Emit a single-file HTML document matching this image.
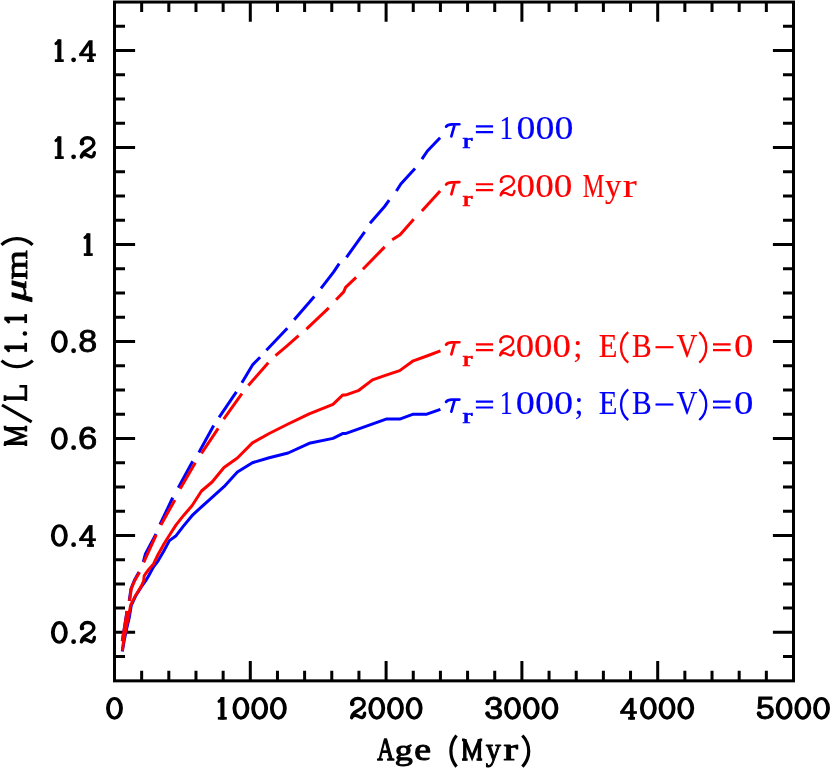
<!DOCTYPE html>
<html><head><meta charset="utf-8"><title>M/L vs Age</title>
<style>html,body{margin:0;padding:0;background:#fff;}svg{display:block;}</style></head><body>
<svg width="830" height="769" viewBox="0 0 830 769" style="will-change:transform">
<rect x="0" y="0" width="830" height="769" fill="#fff"/>
<g id="frame" stroke="#000" stroke-width="3" fill="none">
<rect x="114.50" y="2.05" width="679.00" height="678.80"/>
<path d="M141.66 680.85V670.80M141.66 2.05V12.10M168.82 680.85V670.80M168.82 2.05V12.10M195.98 680.85V670.80M195.98 2.05V12.10M223.14 680.85V670.80M223.14 2.05V12.10M250.30 680.85V661.05M250.30 2.05V21.85M277.46 680.85V670.80M277.46 2.05V12.10M304.62 680.85V670.80M304.62 2.05V12.10M331.78 680.85V670.80M331.78 2.05V12.10M358.94 680.85V670.80M358.94 2.05V12.10M386.10 680.85V661.05M386.10 2.05V21.85M413.26 680.85V670.80M413.26 2.05V12.10M440.42 680.85V670.80M440.42 2.05V12.10M467.58 680.85V670.80M467.58 2.05V12.10M494.74 680.85V670.80M494.74 2.05V12.10M521.90 680.85V661.05M521.90 2.05V21.85M549.06 680.85V670.80M549.06 2.05V12.10M576.22 680.85V670.80M576.22 2.05V12.10M603.38 680.85V670.80M603.38 2.05V12.10M630.54 680.85V670.80M630.54 2.05V12.10M657.70 680.85V661.05M657.70 2.05V21.85M684.86 680.85V670.80M684.86 2.05V12.10M712.02 680.85V670.80M712.02 2.05V12.10M739.18 680.85V670.80M739.18 2.05V12.10M766.34 680.85V670.80M766.34 2.05V12.10M114.50 656.61H125.00M793.50 656.61H783.00M114.50 632.36H135.10M793.50 632.36H772.90M114.50 608.12H125.00M793.50 608.12H783.00M114.50 583.88H125.00M793.50 583.88H783.00M114.50 559.64H125.00M793.50 559.64H783.00M114.50 535.39H135.10M793.50 535.39H772.90M114.50 511.15H125.00M793.50 511.15H783.00M114.50 486.91H125.00M793.50 486.91H783.00M114.50 462.66H125.00M793.50 462.66H783.00M114.50 438.42H135.10M793.50 438.42H772.90M114.50 414.18H125.00M793.50 414.18H783.00M114.50 389.94H125.00M793.50 389.94H783.00M114.50 365.69H125.00M793.50 365.69H783.00M114.50 341.45H135.10M793.50 341.45H772.90M114.50 317.21H125.00M793.50 317.21H783.00M114.50 292.96H125.00M793.50 292.96H783.00M114.50 268.72H125.00M793.50 268.72H783.00M114.50 244.48H135.10M793.50 244.48H772.90M114.50 220.24H125.00M793.50 220.24H783.00M114.50 195.99H125.00M793.50 195.99H783.00M114.50 171.75H125.00M793.50 171.75H783.00M114.50 147.51H135.10M793.50 147.51H772.90M114.50 123.26H125.00M793.50 123.26H783.00M114.50 99.02H125.00M793.50 99.02H783.00M114.50 74.78H125.00M793.50 74.78H783.00M114.50 50.54H135.10M793.50 50.54H772.90M114.50 26.29H125.00M793.50 26.29H783.00"/>
</g>
<g id="curves">
<polyline points="122.3,651.5 124.1,641.0 126.7,628.5 129.4,616.8 131.3,605.3 135.6,596.0 141.3,587.0 145.6,581.0 149.1,575.0 153.4,567.0 158.1,560.8 163.4,551.7 169.4,540.6 176.1,535.7 183.6,525.9 192.0,515.7 201.5,506.8 212.1,497.3 224.0,486.7 237.4,472.0 252.4,462.7 269.2,457.8 288.1,453.0 309.2,443.3 333.0,438.4 342.6,433.6 345.4,433.6 386.1,419.1 399.7,419.1 413.3,414.2 426.8,414.2 440.4,409.4" fill="none" stroke="#0000ff" stroke-width="3" stroke-linejoin="round" />
<polyline points="122.3,641.3 127.0,610.9" fill="none" stroke="#0000ff" stroke-width="3" stroke-linejoin="round" />
<polyline points="129.2,601.0 131.0,588.7 134.4,580.3 139.0,572.0" fill="none" stroke="#0000ff" stroke-width="3" stroke-linejoin="round" />
<polyline points="143.3,562.0 145.3,554.3 156.0,534.0" fill="none" stroke="#0000ff" stroke-width="3" stroke-linejoin="round" />
<polyline points="160.0,524.5 172.7,497.6" fill="none" stroke="#0000ff" stroke-width="3" stroke-linejoin="round" />
<polyline points="178.3,487.8 192.7,461.2" fill="none" stroke="#0000ff" stroke-width="3" stroke-linejoin="round" />
<polyline points="198.9,452.4 213.7,425.6" fill="none" stroke="#0000ff" stroke-width="3" stroke-linejoin="round" />
<polyline points="219.1,417.4 236.4,391.9" fill="none" stroke="#0000ff" stroke-width="3" stroke-linejoin="round" />
<polyline points="241.9,382.8 252.8,364.6 260.1,357.3" fill="none" stroke="#0000ff" stroke-width="3" stroke-linejoin="round" />
<polyline points="266.4,350.2 287.3,328.3" fill="none" stroke="#0000ff" stroke-width="3" stroke-linejoin="round" />
<polyline points="294.2,319.8 314.3,296.5" fill="none" stroke="#0000ff" stroke-width="3" stroke-linejoin="round" />
<polyline points="321.0,288.3 333.7,271.9 339.2,263.7" fill="none" stroke="#0000ff" stroke-width="3" stroke-linejoin="round" />
<polyline points="346.5,257.3 364.7,231.8" fill="none" stroke="#0000ff" stroke-width="3" stroke-linejoin="round" />
<polyline points="370.0,223.3 384.6,206.5 389.2,200.1" fill="none" stroke="#0000ff" stroke-width="3" stroke-linejoin="round" />
<polyline points="396.4,191.0 401.0,183.8 415.0,168.6" fill="none" stroke="#0000ff" stroke-width="3" stroke-linejoin="round" />
<polyline points="421.9,159.2 427.4,151.0 440.1,137.7" fill="none" stroke="#0000ff" stroke-width="3" stroke-linejoin="round" />
<polyline points="122.3,650.7 123.7,640.2 126.0,628.5 128.4,616.8 130.7,605.1 135.4,595.7 141.2,586.4 143.6,581.1 144.2,575.8 145.4,574.0 149.1,569.0 153.4,564.2 158.1,554.5 163.4,544.9 169.4,535.3 176.1,524.9 183.6,515.4 192.0,505.7 201.5,491.0 212.1,482.0 224.0,467.5 237.4,458.0 252.4,442.9 269.2,433.5 288.1,424.0 309.2,413.8 333.0,404.3 342.6,395.1 345.4,395.1 358.9,390.3 372.5,379.9 386.1,375.2 399.7,370.6 413.3,360.8 426.8,356.0 440.4,350.8" fill="none" stroke="#ff0000" stroke-width="3" stroke-linejoin="round" />
<polyline points="122.3,641.3 127.2,610.9" fill="none" stroke="#ff0000" stroke-width="3" stroke-linejoin="round" />
<polyline points="129.5,601.0 131.3,588.7 134.8,580.5 139.5,572.3" fill="none" stroke="#ff0000" stroke-width="3" stroke-linejoin="round" />
<polyline points="143.7,562.4 156.2,534.9" fill="none" stroke="#ff0000" stroke-width="3" stroke-linejoin="round" />
<polyline points="160.9,525.0 174.9,500.0" fill="none" stroke="#ff0000" stroke-width="3" stroke-linejoin="round" />
<polyline points="180.2,488.8 195.3,462.8" fill="none" stroke="#ff0000" stroke-width="3" stroke-linejoin="round" />
<polyline points="201.5,453.4 218.2,428.3" fill="none" stroke="#ff0000" stroke-width="3" stroke-linejoin="round" />
<polyline points="223.7,419.2 241.9,393.7" fill="none" stroke="#ff0000" stroke-width="3" stroke-linejoin="round" />
<polyline points="248.3,385.5 268.3,362.8" fill="none" stroke="#ff0000" stroke-width="3" stroke-linejoin="round" />
<polyline points="275.5,355.6 287.3,345.6 298.6,335.6" fill="none" stroke="#ff0000" stroke-width="3" stroke-linejoin="round" />
<polyline points="306.4,329.2 328.8,307.9" fill="none" stroke="#ff0000" stroke-width="3" stroke-linejoin="round" />
<polyline points="336.1,299.7 343.7,291.9 345.6,287.4 356.1,277.3" fill="none" stroke="#ff0000" stroke-width="3" stroke-linejoin="round" />
<polyline points="362.9,269.2 384.7,246.9" fill="none" stroke="#ff0000" stroke-width="3" stroke-linejoin="round" />
<polyline points="392.2,239.7 400.1,234.7 413.7,219.2" fill="none" stroke="#ff0000" stroke-width="3" stroke-linejoin="round" />
<polyline points="421.9,211.1 440.1,191.0" fill="none" stroke="#ff0000" stroke-width="3" stroke-linejoin="round" />
</g>
<g id="ticklabels" fill="#000" stroke="#000" stroke-width="1.0">
<path d="M106.05 708.30A8.45 11.35 0 1 0 122.95 708.30A8.45 11.35 0 1 0 106.05 708.30ZM109.90 708.30A4.60 8.20 0 1 0 119.10 708.30A4.60 8.20 0 1 0 109.90 708.30Z" fill="#000" fill-rule="evenodd" stroke="none"/>
<g fill="none" stroke="#000" stroke-linecap="butt" stroke-linejoin="miter"><path d="M222.40 697.00V719.60" stroke-width="4.10"/><path d="M217.85 718.30H226.80" stroke-width="2.7"/><path d="M219.00 701.30L222.15 698.60" stroke-width="3.0" stroke-linecap="round"/></g>
<path d="M232.50 708.30A8.45 11.35 0 1 0 249.40 708.30A8.45 11.35 0 1 0 232.50 708.30ZM236.35 708.30A4.60 8.20 0 1 0 245.55 708.30A4.60 8.20 0 1 0 236.35 708.30Z" fill="#000" fill-rule="evenodd" stroke="none"/>
<path d="M251.20 708.30A8.45 11.35 0 1 0 268.10 708.30A8.45 11.35 0 1 0 251.20 708.30ZM255.05 708.30A4.60 8.20 0 1 0 264.25 708.30A4.60 8.20 0 1 0 255.05 708.30Z" fill="#000" fill-rule="evenodd" stroke="none"/>
<path d="M269.90 708.30A8.45 11.35 0 1 0 286.80 708.30A8.45 11.35 0 1 0 269.90 708.30ZM273.75 708.30A4.60 8.20 0 1 0 282.95 708.30A4.60 8.20 0 1 0 273.75 708.30Z" fill="#000" fill-rule="evenodd" stroke="none"/>
<path d="M352.04 704.26C351.06 701.26 354.09 698.40 357.81 698.40C361.52 698.40 364.16 700.66 364.16 703.66C364.16 707.07 360.54 709.08 356.83 711.08C353.89 712.69 352.04 714.29 351.65 717.70C353.11 714.89 355.65 714.59 358.59 716.40C361.52 718.20 364.06 718.30 364.65 713.29" fill="none" stroke="#000" stroke-width="3.40" stroke-linecap="round" stroke-linejoin="round"/>
<circle cx="352.33" cy="703.86" r="2.30" fill="#000" stroke="none"/>
<path d="M368.30 708.30A8.45 11.35 0 1 0 385.20 708.30A8.45 11.35 0 1 0 368.30 708.30ZM372.15 708.30A4.60 8.20 0 1 0 381.35 708.30A4.60 8.20 0 1 0 372.15 708.30Z" fill="#000" fill-rule="evenodd" stroke="none"/>
<path d="M387.00 708.30A8.45 11.35 0 1 0 403.90 708.30A8.45 11.35 0 1 0 387.00 708.30ZM390.85 708.30A4.60 8.20 0 1 0 400.05 708.30A4.60 8.20 0 1 0 390.85 708.30Z" fill="#000" fill-rule="evenodd" stroke="none"/>
<path d="M405.70 708.30A8.45 11.35 0 1 0 422.60 708.30A8.45 11.35 0 1 0 405.70 708.30ZM409.55 708.30A4.60 8.20 0 1 0 418.75 708.30A4.60 8.20 0 1 0 409.55 708.30Z" fill="#000" fill-rule="evenodd" stroke="none"/>
<text transform="matrix(0.3375 0 0 0.3143 484.56 719.14)" font-family="Liberation Sans" font-size="100" stroke-width="2.6">3</text>
<circle cx="487.65" cy="702.90" r="2.25" fill="#000" stroke="none"/>
<circle cx="487.55" cy="713.50" r="2.25" fill="#000" stroke="none"/>
<path d="M504.10 708.30A8.45 11.35 0 1 0 521.00 708.30A8.45 11.35 0 1 0 504.10 708.30ZM507.95 708.30A4.60 8.20 0 1 0 517.15 708.30A4.60 8.20 0 1 0 507.95 708.30Z" fill="#000" fill-rule="evenodd" stroke="none"/>
<path d="M522.80 708.30A8.45 11.35 0 1 0 539.70 708.30A8.45 11.35 0 1 0 522.80 708.30ZM526.65 708.30A4.60 8.20 0 1 0 535.85 708.30A4.60 8.20 0 1 0 526.65 708.30Z" fill="#000" fill-rule="evenodd" stroke="none"/>
<path d="M541.50 708.30A8.45 11.35 0 1 0 558.40 708.30A8.45 11.35 0 1 0 541.50 708.30ZM545.35 708.30A4.60 8.20 0 1 0 554.55 708.30A4.60 8.20 0 1 0 545.35 708.30Z" fill="#000" fill-rule="evenodd" stroke="none"/>
<g fill="none" stroke="#000" stroke-linecap="butt"><path d="M621.55 712.40L630.95 699.10" stroke-width="3.2"/><path d="M631.75 697.90V719.60" stroke-width="3.7"/><path d="M628.10 718.30H635.00" stroke-width="2.7"/><path d="M620.15 712.50H636.90" stroke-width="2.7"/></g>
<path d="M639.90 708.30A8.45 11.35 0 1 0 656.80 708.30A8.45 11.35 0 1 0 639.90 708.30ZM643.75 708.30A4.60 8.20 0 1 0 652.95 708.30A4.60 8.20 0 1 0 643.75 708.30Z" fill="#000" fill-rule="evenodd" stroke="none"/>
<path d="M658.60 708.30A8.45 11.35 0 1 0 675.50 708.30A8.45 11.35 0 1 0 658.60 708.30ZM662.45 708.30A4.60 8.20 0 1 0 671.65 708.30A4.60 8.20 0 1 0 662.45 708.30Z" fill="#000" fill-rule="evenodd" stroke="none"/>
<path d="M677.30 708.30A8.45 11.35 0 1 0 694.20 708.30A8.45 11.35 0 1 0 677.30 708.30ZM681.15 708.30A4.60 8.20 0 1 0 690.35 708.30A4.60 8.20 0 1 0 681.15 708.30Z" fill="#000" fill-rule="evenodd" stroke="none"/>
<text transform="matrix(0.3375 0 0 0.3189 756.10 719.14)" font-family="Liberation Sans" font-size="100" stroke-width="2.6">5</text>
<circle cx="758.95" cy="713.40" r="2.25" fill="#000" stroke="none"/>
<path d="M775.70 708.30A8.45 11.35 0 1 0 792.60 708.30A8.45 11.35 0 1 0 775.70 708.30ZM779.55 708.30A4.60 8.20 0 1 0 788.75 708.30A4.60 8.20 0 1 0 779.55 708.30Z" fill="#000" fill-rule="evenodd" stroke="none"/>
<path d="M794.40 708.30A8.45 11.35 0 1 0 811.30 708.30A8.45 11.35 0 1 0 794.40 708.30ZM798.25 708.30A4.60 8.20 0 1 0 807.45 708.30A4.60 8.20 0 1 0 798.25 708.30Z" fill="#000" fill-rule="evenodd" stroke="none"/>
<path d="M813.10 708.30A8.45 11.35 0 1 0 830.00 708.30A8.45 11.35 0 1 0 813.10 708.30ZM816.95 708.30A4.60 8.20 0 1 0 826.15 708.30A4.60 8.20 0 1 0 816.95 708.30Z" fill="#000" fill-rule="evenodd" stroke="none"/>
<path d="M81.74 628.43C80.76 625.42 83.79 622.56 87.51 622.56C91.22 622.56 93.86 624.82 93.86 627.83C93.86 631.24 90.24 633.24 86.53 635.25C83.59 636.85 81.74 638.45 81.35 641.86C82.81 639.06 85.35 638.76 88.29 640.56C91.22 642.36 93.76 642.46 94.35 637.45" fill="none" stroke="#000" stroke-width="3.40" stroke-linecap="round" stroke-linejoin="round"/>
<circle cx="82.03" cy="628.03" r="2.30" fill="#000" stroke="none"/>
<circle cx="73.60" cy="641.66" r="2.4" fill="#000" stroke="none"/>
<path d="M50.90 632.46A8.45 11.35 0 1 0 67.80 632.46A8.45 11.35 0 1 0 50.90 632.46ZM54.75 632.46A4.60 8.20 0 1 0 63.95 632.46A4.60 8.20 0 1 0 54.75 632.46Z" fill="#000" fill-rule="evenodd" stroke="none"/>
<g fill="none" stroke="#000" stroke-linecap="butt"><path d="M80.55 539.59L89.95 526.29" stroke-width="3.2"/><path d="M90.75 525.09V546.79" stroke-width="3.7"/><path d="M87.10 545.49H94.00" stroke-width="2.7"/><path d="M79.15 539.69H95.90" stroke-width="2.7"/></g>
<circle cx="73.60" cy="544.69" r="2.4" fill="#000" stroke="none"/>
<path d="M50.90 535.49A8.45 11.35 0 1 0 67.80 535.49A8.45 11.35 0 1 0 50.90 535.49ZM54.75 535.49A4.60 8.20 0 1 0 63.95 535.49A4.60 8.20 0 1 0 54.75 535.49Z" fill="#000" fill-rule="evenodd" stroke="none"/>
<text transform="matrix(0.3468 0 0 0.3143 77.99 449.36)" font-family="Liberation Sans" font-size="100" stroke-width="2.6">6</text>
<circle cx="93.05" cy="431.12" r="2.25" fill="#000" stroke="none"/>
<circle cx="73.60" cy="447.72" r="2.4" fill="#000" stroke="none"/>
<path d="M50.90 438.52A8.45 11.35 0 1 0 67.80 438.52A8.45 11.35 0 1 0 50.90 438.52ZM54.75 438.52A4.60 8.20 0 1 0 63.95 438.52A4.60 8.20 0 1 0 54.75 438.52Z" fill="#000" fill-rule="evenodd" stroke="none"/>
<text transform="matrix(0.3410 0 0 0.3143 78.27 352.39)" font-family="Liberation Sans" font-size="100" stroke-width="2.6">8</text>
<circle cx="73.60" cy="350.75" r="2.4" fill="#000" stroke="none"/>
<path d="M50.90 341.55A8.45 11.35 0 1 0 67.80 341.55A8.45 11.35 0 1 0 50.90 341.55ZM54.75 341.55A4.60 8.20 0 1 0 63.95 341.55A4.60 8.20 0 1 0 54.75 341.55Z" fill="#000" fill-rule="evenodd" stroke="none"/>
<g fill="none" stroke="#000" stroke-linecap="butt" stroke-linejoin="miter"><path d="M88.35 233.28V255.88" stroke-width="4.10"/><path d="M83.80 254.58H92.75" stroke-width="2.7"/><path d="M84.95 237.58L88.10 234.88" stroke-width="3.0" stroke-linecap="round"/></g>
<path d="M81.74 143.57C80.76 140.56 83.79 137.71 87.51 137.71C91.22 137.71 93.86 139.96 93.86 142.97C93.86 146.38 90.24 148.38 86.53 150.39C83.59 151.99 81.74 153.60 81.35 157.01C82.81 154.20 85.35 153.90 88.29 155.70C91.22 157.51 93.76 157.61 94.35 152.59" fill="none" stroke="#000" stroke-width="3.40" stroke-linecap="round" stroke-linejoin="round"/>
<circle cx="82.03" cy="143.17" r="2.30" fill="#000" stroke="none"/>
<circle cx="73.60" cy="156.81" r="2.4" fill="#000" stroke="none"/>
<g fill="none" stroke="#000" stroke-linecap="butt" stroke-linejoin="miter"><path d="M59.35 136.31V158.91" stroke-width="4.10"/><path d="M54.80 157.61H63.75" stroke-width="2.7"/><path d="M55.95 140.61L59.10 137.91" stroke-width="3.0" stroke-linecap="round"/></g>
<g fill="none" stroke="#000" stroke-linecap="butt"><path d="M80.55 54.74L89.95 41.44" stroke-width="3.2"/><path d="M90.75 40.24V61.94" stroke-width="3.7"/><path d="M87.10 60.64H94.00" stroke-width="2.7"/><path d="M79.15 54.84H95.90" stroke-width="2.7"/></g>
<circle cx="73.60" cy="59.84" r="2.4" fill="#000" stroke="none"/>
<g fill="none" stroke="#000" stroke-linecap="butt" stroke-linejoin="miter"><path d="M59.35 39.34V61.94" stroke-width="4.10"/><path d="M54.80 60.64H63.75" stroke-width="2.7"/><path d="M55.95 43.64L59.10 40.94" stroke-width="3.0" stroke-linecap="round"/></g>
</g>
<g id="xtitle" fill="#000" stroke="#000" stroke-linejoin="round">
<text transform="matrix(0.2340 0 0 0.3075 377.37 760.10)" font-family="Liberation Serif" font-size="100" stroke-width="4.6">A</text>
<text transform="matrix(0.3607 0 0 0.3045 394.85 760.43)" font-family="Liberation Serif" font-size="100" stroke-width="3.2">g</text>
<text transform="matrix(0.3783 0 0 0.3244 414.32 760.08)" font-family="Liberation Serif" font-size="100" stroke-width="3.2">e</text>
<path d="M456.54 735.50A24.26 24.26 0 0 0 456.54 766.60" fill="none" stroke="#000" stroke-width="3.20" stroke-linecap="butt"/>
<g fill="none" stroke="#000" stroke-linecap="butt" stroke-linejoin="miter"><path d="M464.79 738.90V760.50M479.41 738.90V760.50" stroke-width="3.4"/><path d="M464.79 739.80L472.10 757.50L479.41 739.80" stroke-width="3.0"/><path d="M462.00 759.50H467.69M476.51 759.50H482.20M462.00 739.90H464.79M479.41 739.90H482.20" stroke-width="2.6"/></g>
<text transform="matrix(0.3038 0 0 0.3171 485.63 759.76)" font-family="Liberation Serif" font-size="100" stroke-width="3.2">y</text>
<text transform="matrix(0.4339 0 0 0.3226 503.43 760.30)" font-family="Liberation Serif" font-size="100" stroke-width="3.2">r</text>
<path d="M522.36 735.50A22.24 22.24 0 0 1 522.36 766.60" fill="none" stroke="#000" stroke-width="3.20" stroke-linecap="butt"/>
</g>
<g id="ytitle" fill="#000" stroke="#000" stroke-linejoin="round" transform="translate(27.1 446.4) rotate(-90)">
<g fill="none" stroke="#000" stroke-linecap="butt" stroke-linejoin="miter"><path d="M3.19 -23.10V-0.20M17.81 -23.10V-0.20" stroke-width="3.4"/><path d="M3.19 -22.20L10.50 -3.20L17.81 -22.20" stroke-width="3.0"/><path d="M0.40 -1.20H6.09M14.91 -1.20H20.60M0.40 -22.10H3.19M17.81 -22.10H20.60" stroke-width="2.6"/></g>
<path d="M24.60 4.60L41.40 -25.10" fill="none" stroke="#000" stroke-width="3.1" stroke-linecap="butt"/>
<g fill="none" stroke="#000" stroke-linecap="butt" stroke-linejoin="miter"><path d="M48.30 -23.10V-0.20" stroke-width="3.5"/><path d="M45.40 -1.25H61.40M45.40 -22.10H51.20" stroke-width="2.7"/><path d="M60.10 -0.10V-7.70" stroke-width="2.6"/></g>
<path d="M85.74 -25.60A23.59 23.59 0 0 0 85.74 5.70" fill="none" stroke="#000" stroke-width="3.20" stroke-linecap="butt"/>
<g fill="none" stroke="#000" stroke-linecap="butt" stroke-linejoin="miter"><path d="M99.15 -22.70V-0.10" stroke-width="3.70"/><path d="M94.60 -1.40H103.55" stroke-width="2.7"/><path d="M95.75 -18.40L98.90 -21.10" stroke-width="3.0" stroke-linecap="round"/></g>
<circle cx="112.95" cy="-2.2" r="2.3" fill="#000" stroke="none"/>
<g fill="none" stroke="#000" stroke-linecap="butt" stroke-linejoin="miter"><path d="M127.85 -22.70V-0.10" stroke-width="3.70"/><path d="M123.30 -1.40H132.25" stroke-width="2.7"/><path d="M124.45 -18.40L127.60 -21.10" stroke-width="3.0" stroke-linecap="round"/></g>
<text transform="matrix(0.4386 0 0 0.2958 144.89 -1.38)" font-family="Liberation Serif" font-style="italic" font-size="100" stroke-width="2.8">μ</text>
<text transform="matrix(0.3778 0 0 0.3205 166.86 -0.35)" font-family="Liberation Serif" font-size="100" stroke-width="2.8">m</text>
<path d="M201.46 -25.60A22.50 22.50 0 0 1 201.46 5.50" fill="none" stroke="#000" stroke-width="3.20" stroke-linecap="butt"/>
</g>
<path d="M446.10 126.60C447.20 125.10 449.00 124.45 451.80 124.40L459.40 124.25M454.70 124.60L451.35 136.40" fill="none" stroke="#0000ff" stroke-width="2.7" stroke-linecap="round" stroke-linejoin="round"/>
<path d="M475.90 126.30H493.10M475.90 132.15H493.10" fill="none" stroke="#0000ff" stroke-width="2.15"/>
<g fill="#0000ff" stroke="#0000ff" stroke-width="0.5">
<text transform="matrix(0.3024 0 0 0.2122 462.59 148.00)" font-family="Liberation Serif" font-size="100" stroke-width="3.2">r</text>
<text transform="matrix(0.2727 0 0 0.3280 499.60 139.00)" font-family="Liberation Serif" font-size="100" >1</text>
<text transform="matrix(0.3786 0 0 0.3280 516.56 139.00)" font-family="Liberation Serif" font-size="100" >000</text>
</g>
<path d="M446.10 184.50C447.20 183.00 449.00 182.35 451.80 182.30L459.40 182.15M454.70 182.50L451.35 194.30" fill="none" stroke="#ff0000" stroke-width="2.7" stroke-linecap="round" stroke-linejoin="round"/>
<path d="M475.90 184.20H493.10M475.90 190.05H493.10" fill="none" stroke="#ff0000" stroke-width="2.15"/>
<g fill="#ff0000" stroke="#ff0000" stroke-width="0.5">
<text transform="matrix(0.3024 0 0 0.2122 462.59 205.90)" font-family="Liberation Serif" font-size="100" stroke-width="3.2">r</text>
<path d="M501.07 181.99C500.04 178.99 503.25 176.15 507.19 176.15C511.13 176.15 513.93 178.39 513.93 181.39C513.93 184.78 510.09 186.77 506.15 188.77C503.04 190.36 501.07 191.96 500.66 195.35C502.21 192.56 504.91 192.26 508.02 194.05C511.13 195.85 513.83 195.95 514.45 190.96" fill="none" stroke="#ff0000" stroke-width="2.30" stroke-linecap="round" stroke-linejoin="round"/>
<circle cx="501.38" cy="181.59" r="1.50" fill="#ff0000" stroke="none"/>
<text transform="matrix(0.3722 0 0 0.3280 516.58 196.90)" font-family="Liberation Serif" font-size="100" >000</text>
<text transform="matrix(0.2431 0 0 0.3280 582.80 196.90)" font-family="Liberation Serif" font-size="100" >M</text>
<text transform="matrix(0.3265 0 0 0.3280 604.90 196.90)" font-family="Liberation Serif" font-size="100" >y</text>
<text transform="matrix(0.4208 0 0 0.3280 622.76 196.90)" font-family="Liberation Serif" font-size="100" >r</text>
</g>
<path d="M446.10 344.60C447.20 343.10 449.00 342.45 451.80 342.40L459.40 342.25M454.70 342.60L451.35 354.40" fill="none" stroke="#ff0000" stroke-width="2.7" stroke-linecap="round" stroke-linejoin="round"/>
<path d="M475.90 344.30H493.10M475.90 350.15H493.10" fill="none" stroke="#ff0000" stroke-width="2.15"/>
<g fill="#ff0000" stroke="#ff0000" stroke-width="0.5">
<text transform="matrix(0.3024 0 0 0.2122 462.59 366.00)" font-family="Liberation Serif" font-size="100" stroke-width="3.2">r</text>
<path d="M500.56 342.09C499.54 339.09 502.69 336.25 506.55 336.25C510.40 336.25 513.14 338.49 513.14 341.49C513.14 344.88 509.39 346.87 505.53 348.87C502.49 350.46 500.56 352.06 500.15 355.45C501.68 352.66 504.31 352.36 507.36 354.15C510.40 355.95 513.04 356.05 513.65 351.06" fill="none" stroke="#ff0000" stroke-width="2.30" stroke-linecap="round" stroke-linejoin="round"/>
<circle cx="500.86" cy="341.69" r="1.50" fill="#ff0000" stroke="none"/>
<text transform="matrix(0.3680 0 0 0.3280 515.70 357.00)" font-family="Liberation Serif" font-size="100" >000</text>
<text transform="matrix(0.3279 0 0 0.3280 573.20 357.00)" font-family="Liberation Serif" font-size="100" >;</text>
<text transform="matrix(0.3063 0 0 0.3280 598.82 357.00)" font-family="Liberation Serif" font-size="100" >E</text>
<path d="M628.24 332.10A19.88 19.88 0 0 0 628.24 362.70" fill="none" stroke="#ff0000" stroke-width="2.30" stroke-linecap="butt"/>
<text transform="matrix(0.2952 0 0 0.3280 631.95 357.00)" font-family="Liberation Serif" font-size="100" >B</text>
<path d="M655.50 347.20H673.40" fill="none" stroke="#ff0000" stroke-width="2.15"/>
<text transform="matrix(0.2887 0 0 0.3280 676.38 357.00)" font-family="Liberation Serif" font-size="100" >V</text>
<path d="M699.26 332.10A20.25 20.25 0 0 1 699.26 362.70" fill="none" stroke="#ff0000" stroke-width="2.30" stroke-linecap="butt"/>
<path d="M713.00 344.30H730.60M713.00 350.15H730.60" fill="none" stroke="#ff0000" stroke-width="2.15"/>
<text transform="matrix(0.3893 0 0 0.3280 734.12 357.00)" font-family="Liberation Serif" font-size="100" >0</text>
</g>
<path d="M446.10 401.90C447.20 400.40 449.00 399.75 451.80 399.70L459.40 399.55M454.70 399.90L451.35 411.70" fill="none" stroke="#0000ff" stroke-width="2.7" stroke-linecap="round" stroke-linejoin="round"/>
<path d="M475.90 401.60H493.10M475.90 407.45H493.10" fill="none" stroke="#0000ff" stroke-width="2.15"/>
<g fill="#0000ff" stroke="#0000ff" stroke-width="0.5">
<text transform="matrix(0.3024 0 0 0.2122 462.59 423.30)" font-family="Liberation Serif" font-size="100" stroke-width="3.2">r</text>
<text transform="matrix(0.2585 0 0 0.3280 499.73 414.30)" font-family="Liberation Serif" font-size="100" >1</text>
<text transform="matrix(0.3835 0 0 0.3280 515.74 414.30)" font-family="Liberation Serif" font-size="100" >000</text>
<text transform="matrix(0.3213 0 0 0.3280 574.44 414.30)" font-family="Liberation Serif" font-size="100" >;</text>
<text transform="matrix(0.3063 0 0 0.3280 598.82 414.30)" font-family="Liberation Serif" font-size="100" >E</text>
<path d="M628.24 389.40A19.88 19.88 0 0 0 628.24 420.00" fill="none" stroke="#0000ff" stroke-width="2.30" stroke-linecap="butt"/>
<text transform="matrix(0.2952 0 0 0.3280 631.95 414.30)" font-family="Liberation Serif" font-size="100" >B</text>
<path d="M655.50 404.50H673.40" fill="none" stroke="#0000ff" stroke-width="2.15"/>
<text transform="matrix(0.2887 0 0 0.3280 676.38 414.30)" font-family="Liberation Serif" font-size="100" >V</text>
<path d="M699.26 389.40A20.25 20.25 0 0 1 699.26 420.00" fill="none" stroke="#0000ff" stroke-width="2.30" stroke-linecap="butt"/>
<path d="M713.00 401.60H730.60M713.00 407.45H730.60" fill="none" stroke="#0000ff" stroke-width="2.15"/>
<text transform="matrix(0.3893 0 0 0.3280 734.12 414.30)" font-family="Liberation Serif" font-size="100" >0</text>
</g>
</svg></body></html>
